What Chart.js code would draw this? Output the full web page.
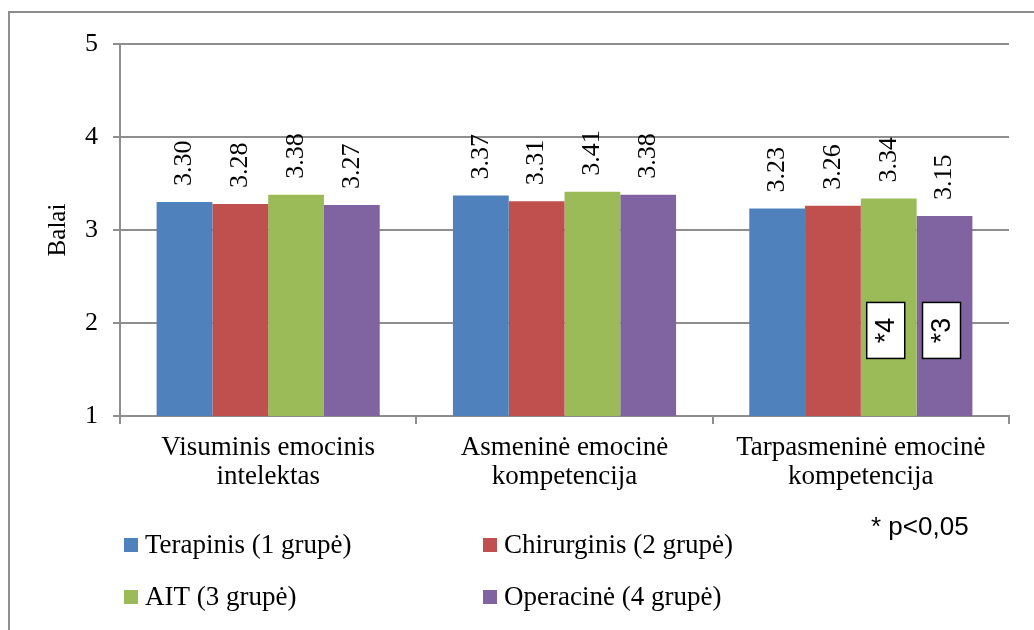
<!DOCTYPE html>
<html>
<head>
<meta charset="utf-8">
<script src="https://cdn.jsdelivr.net/npm/chart.js@4/dist/chart.umd.min.js"></script>
<style>
  html, body { margin: 0; padding: 0; background: #fff; }
  #wrap { position: relative; width: 1034px; height: 630px; overflow: hidden; }
  #frame { position: absolute; left: 8px; top: 11px; width: 1100px; height: 700px;
           border-left: 2px solid #8e8e8e; border-top: 2px solid #8e8e8e; }
  canvas { position: absolute; left: 0; top: 0; }
</style>
</head>
<body>
<div id="wrap">
  <div id="frame"></div>
  <canvas id="chart" width="1034" height="630"></canvas>
</div>
<script>
const categories = [
    ['Visuminis emocinis', 'intelektas'],
    ['Asmeninė emocinė', 'kompetencija'],
    ['Tarpasmeninė emocinė', 'kompetencija']
];
const groupNames = ['Terapinis (1 grupė)', 'Chirurginis (2 grupė)', 'AIT (3 grupė)', 'Operacinė (4 grupė)'];
const terapinis   = [3.30, 3.37, 3.23];
const chirurginis = [3.28, 3.31, 3.26];
const ait         = [3.38, 3.41, 3.34];
const operacine   = [3.27, 3.38, 3.15];
const yTicks = [1, 2, 3, 4, 5];
const significance = [
    { dataset: 2, index: 2, text: '*4' },
    { dataset: 3, index: 2, text: '*3' }
];
const noteText = '* p<0,05';

const colors = ['#4F81BD', '#C0504D', '#9BBB59', '#8064A2'];
const gridColor = '#8e8e8e';
const serif = '"Liberation Serif", "Times New Roman", serif';
const sans = '"Liberation Sans", Arial, sans-serif';

const valueLabels = {
    id: 'valueLabels',
    afterDatasetsDraw(chart) {
        const ctx = chart.ctx;
        ctx.save();
        ctx.font = '26px ' + serif;
        ctx.fillStyle = '#000';
        chart.data.datasets.forEach((ds, di) => {
            chart.getDatasetMeta(di).data.forEach((bar, i) => {
                ctx.save();
                ctx.translate(bar.x, bar.y - 16);
                ctx.rotate(-Math.PI / 2);
                ctx.textAlign = 'left';
                ctx.textBaseline = 'middle';
                ctx.fillText(ds.data[i].toFixed(2), 0, 0);
                ctx.restore();
            });
        });
        ctx.restore();
    }
};

const extras = {
    id: 'extras',
    afterDraw(chart) {
        const ctx = chart.ctx;
        const yScale = chart.scales.y;
        // boxed significance marks
        significance.forEach(s => {
            const bar = chart.getDatasetMeta(s.dataset).data[s.index];
            const cx = bar.x - 3, cy = yScale.getPixelForValue(1.92);
            const w = 38, h = 56;
            ctx.save();
            ctx.fillStyle = '#fff';
            ctx.fillRect(cx - w / 2, cy - h / 2, w, h);
            ctx.strokeStyle = '#000';
            ctx.lineWidth = 1.5;
            ctx.strokeRect(cx - w / 2, cy - h / 2, w, h);
            ctx.translate(cx, cy);
            ctx.rotate(-Math.PI / 2);
            ctx.font = '27px ' + sans;
            ctx.fillStyle = '#000';
            ctx.textAlign = 'center';
            ctx.textBaseline = 'middle';
            ctx.fillText(s.text, 0, 1);
            ctx.restore();
        });
        // legend, two columns
        const colX = [124, 483], rowY = [545, 597];
        ctx.save();
        ctx.font = '27px ' + serif;
        ctx.textBaseline = 'middle';
        ctx.textAlign = 'left';
        groupNames.forEach((name, i) => {
            const x = colX[i % 2], y = rowY[Math.floor(i / 2)];
            ctx.fillStyle = colors[i];
            ctx.fillRect(x, y - 7, 14, 14);
            ctx.fillStyle = '#000';
            ctx.fillText(name, x + 21, y + 1);
        });
        ctx.font = '26px ' + sans;
        ctx.fillText(noteText, 871, 528);
        ctx.restore();
    }
};

new Chart(document.getElementById('chart'), {
    type: 'bar',
    data: {
        labels: categories,
        datasets: [terapinis, chirurginis, ait, operacine].map((d, i) => ({
            label: groupNames[i],
            data: d,
            backgroundColor: colors[i],
            borderWidth: 0,
            categoryPercentage: 0.753,
            barPercentage: 1
        }))
    },
    options: {
        responsive: false,
        animation: false,
        layout: { padding: { top: 44, right: 25, left: 0, bottom: 0 } },
        plugins: { legend: { display: false }, tooltip: { enabled: false } },
        scales: {
            x: {
                grid: { drawOnChartArea: false, drawTicks: true, tickLength: 8, color: gridColor, lineWidth: 2, offset: true },
                border: { color: gridColor, width: 2 },
                ticks: { color: '#000', font: { family: serif, size: 27, lineHeight: 1.05 }, padding: 10, maxRotation: 0, autoSkip: false },
                afterFit: s => { s.height = 214; }
            },
            y: {
                min: yTicks[0],
                max: yTicks[yTicks.length - 1],
                afterBuildTicks: s => { s.ticks = yTicks.map(v => ({ value: v })); },
                grid: { color: gridColor, lineWidth: 2, tickLength: 7 },
                border: { color: gridColor, width: 2 },
                ticks: { color: '#000', font: { family: serif, size: 26 }, padding: 15 },
                title: { display: true, text: 'Balai', color: '#000', font: { family: serif, size: 25 }, padding: { top: 43, bottom: 0 } },
                afterFit: s => { s.width = 120; }
            }
        }
    },
    plugins: [valueLabels, extras]
});
</script>
</body>
</html>
